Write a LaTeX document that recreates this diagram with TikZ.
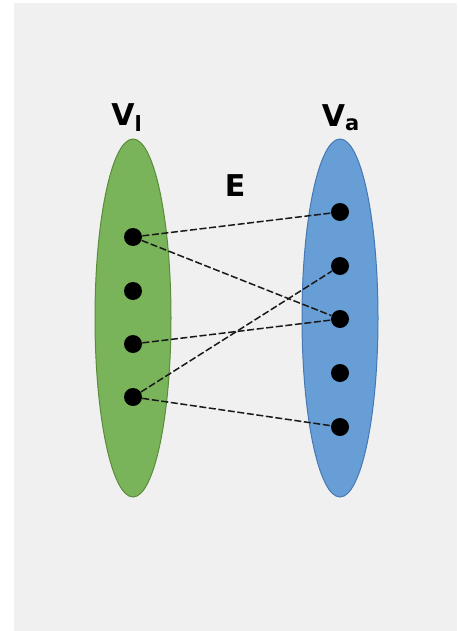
\documentclass[tikz,border=0pt]{standalone}
\usepackage{fontspec}
\setmainfont{DejaVu Sans}
\definecolor{bgrey}{RGB}{240,240,240}
\definecolor{lgreen}{RGB}{122,180,90}
\definecolor{dgreen}{RGB}{90,140,60}
\definecolor{lblue}{RGB}{104,158,214}
\definecolor{dblue}{RGB}{70,120,180}
\tikzset{
  setlbl/.style={draw=none, fill=none, black, font=\fontsize{15}{17}\selectfont\bfseries},
  setlines/.style={line width=0.5pt},
  lset/.style={setlines, draw=dgreen, fill=lgreen},
  aset/.style={setlines, draw=dblue, fill=lblue},
  vdot/.style={circle, fill=black, inner sep=0pt, minimum size=9pt},
  edg/.style={line width=0.75pt, black!90!white, dash pattern=on 3.5pt off 1.3pt},
}

\begin{document}
\begin{tikzpicture}[x=0.5pt, y=-0.5pt]
\useasboundingbox (0,0) rectangle (457,631);
\fill[bgrey] (14,3) rectangle (457,631);
% the two vertex sets
\draw[lset] (133,318) ellipse (38 and 179);
\draw[aset] (340,318) ellipse (38 and 179);
\node[setlbl] (vl) at (127,118) {V\textsubscript{l}};
\node[setlbl] (va) at (341,118) {V\textsubscript{a}};
\node[setlbl] (e) at (235,186) {E};
% vertices
\foreach \i/\y in {1/237, 2/291, 3/344, 4/397}
  \node[vdot] (l\i) at (133,\y) {};
\foreach \i/\y in {1/212, 2/266, 3/319, 4/373, 5/427}
  \node[vdot] (a\i) at (340,\y) {};
% edges
\draw[edg] (l1) -- (a1);
\draw[edg] (l1) -- (a3);
\draw[edg] (l3) -- (a3);
\draw[edg] (l4) -- (a2);
\draw[edg] (l4) -- (a5);
\end{tikzpicture}
\end{document}
